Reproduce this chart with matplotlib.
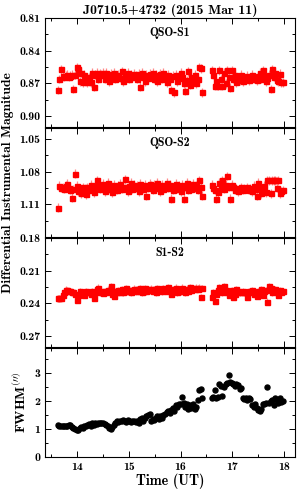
import matplotlib
matplotlib.use("Agg")
import matplotlib.pyplot as plt
from matplotlib.ticker import MultipleLocator, FormatStrFormatter

plt.rcParams['font.family'] = ['cmb10', 'DejaVu Serif']
plt.rcParams['mathtext.fontset'] = 'cm'
plt.rcParams['axes.unicode_minus'] = False

# observation times (UT hours)
time_ut = [13.63, 13.66, 13.69, 13.72, 13.75, 13.78, 13.81, 13.84, 13.87, 13.90,
           13.93, 13.96, 13.99, 14.02, 14.05, 14.08, 14.11, 14.14, 14.17, 14.20,
           14.23, 14.26, 14.29, 14.32, 14.35, 14.38, 14.41, 14.44, 14.47, 14.50,
           14.53, 14.56, 14.59, 14.62, 14.65, 14.68, 14.71, 14.74, 14.77, 14.80,
           14.83, 14.86, 14.89, 14.92, 14.95, 14.98, 15.01, 15.04, 15.07, 15.10,
           15.13, 15.16, 15.19, 15.22, 15.25, 15.28, 15.31, 15.34, 15.37, 15.40,
           15.43, 15.46, 15.49, 15.52, 15.55, 15.58, 15.61, 15.64, 15.67, 15.70,
           15.73, 15.76, 15.79, 15.82, 15.85, 15.88, 15.91, 15.94, 15.97, 16.00,
           16.03, 16.06, 16.09, 16.12, 16.15, 16.18, 16.21, 16.24, 16.27, 16.30,
           16.33, 16.36, 16.39, 16.42,
           16.60, 16.63, 16.66, 16.69, 16.72, 16.75, 16.78, 16.81, 16.84, 16.87,
           16.90, 16.93, 16.96, 16.99, 17.02, 17.05, 17.08, 17.11, 17.14, 17.17,
           17.20, 17.23, 17.26, 17.29, 17.32, 17.35, 17.38, 17.41, 17.44, 17.47,
           17.50, 17.53, 17.56, 17.59, 17.62, 17.65, 17.68, 17.71, 17.74, 17.77,
           17.80, 17.83, 17.86, 17.89, 17.92, 17.95, 17.98]

qso_s1 = [0.876, 0.866, 0.857, 0.863, 0.864, 0.863, 0.862, 0.864, 0.863, 0.862,
          0.875, 0.862, 0.855, 0.857, 0.868, 0.860, 0.869, 0.862, 0.866, 0.869,
          0.864, 0.869, 0.860, 0.873, 0.862, 0.860, 0.866, 0.861, 0.862, 0.860,
          0.866, 0.860, 0.863, 0.868, 0.861, 0.864, 0.860, 0.866, 0.863, 0.862,
          0.865, 0.859, 0.868, 0.861, 0.863, 0.860, 0.866, 0.862, 0.864, 0.861,
          0.863, 0.866, 0.861, 0.873, 0.860, 0.864, 0.868, 0.862, 0.865, 0.861,
          0.864, 0.860, 0.866, 0.862, 0.868, 0.863, 0.861, 0.866, 0.860, 0.864,
          0.869, 0.862, 0.866, 0.876, 0.863, 0.878, 0.862, 0.868, 0.865, 0.860,
          0.864, 0.870, 0.877, 0.867, 0.859, 0.871, 0.864, 0.868, 0.862, 0.870,
          0.866, 0.855, 0.856, 0.878,
          0.858, 0.862, 0.872, 0.868, 0.872, 0.858, 0.866, 0.872, 0.860, 0.870,
          0.858, 0.864, 0.874, 0.858, 0.866, 0.862, 0.869, 0.864, 0.867, 0.862,
          0.868, 0.864, 0.866, 0.863, 0.867, 0.865, 0.862, 0.866, 0.864, 0.867,
          0.863, 0.860, 0.866, 0.858, 0.863, 0.868, 0.865, 0.862, 0.875, 0.857,
          0.864, 0.860, 0.867, 0.868, 0.861, 0.869, 0.869]

qso_s2 = [1.113, 1.093, 1.095, 1.094, 1.096, 1.093, 1.091, 1.095, 1.097, 1.104,
          1.096, 1.082, 1.093, 1.098, 1.095, 1.100, 1.094, 1.096, 1.101, 1.094,
          1.097, 1.092, 1.095, 1.099, 1.093, 1.088, 1.092, 1.096, 1.094, 1.091,
          1.098, 1.094, 1.090, 1.096, 1.093, 1.099, 1.092, 1.095, 1.097, 1.093,
          1.091, 1.096, 1.094, 1.087, 1.095, 1.098, 1.093, 1.090, 1.096, 1.092,
          1.095, 1.093, 1.098, 1.091, 1.094, 1.096, 1.092, 1.102, 1.095, 1.091,
          1.093, 1.097, 1.092, 1.095, 1.090, 1.094, 1.098, 1.092, 1.096, 1.093,
          1.090, 1.095, 1.092, 1.105, 1.097, 1.094, 1.091, 1.096, 1.093, 1.098,
          1.092, 1.105, 1.094, 1.090, 1.097, 1.093, 1.096, 1.091, 1.095, 1.093,
          1.097, 1.088, 1.094, 1.102,
          1.092, 1.095, 1.097, 1.105, 1.099, 1.090, 1.093, 1.088, 1.096, 1.092,
          1.084, 1.094, 1.105, 1.092, 1.094, 1.097, 1.095, 1.098, 1.096, 1.094,
          1.097, 1.095, 1.096, 1.094, 1.097, 1.095, 1.098, 1.093, 1.096, 1.102,
          1.090, 1.094, 1.100, 1.096, 1.093, 1.099, 1.088, 1.088, 1.100, 1.088,
          1.088, 1.088, 1.095, 1.088, 1.100, 1.098, 1.097]

s1_s2 = [0.2355, 0.2355, 0.2350, 0.2320, 0.2300, 0.2275, 0.2280, 0.2285, 0.2290, 0.2295,
         0.2300, 0.2310, 0.2370, 0.2320, 0.2290, 0.2310, 0.2300, 0.2325, 0.2290, 0.2300,
         0.2295, 0.2310, 0.2285, 0.2350, 0.2300, 0.2270, 0.2255, 0.2300, 0.2290, 0.2305,
         0.2285, 0.2300, 0.2275, 0.2290, 0.2240, 0.2310, 0.2330, 0.2285, 0.2300, 0.2280,
         0.2295, 0.2270, 0.2300, 0.2285, 0.2260, 0.2290, 0.2275, 0.2300, 0.2280, 0.2265,
         0.2290, 0.2270, 0.2285, 0.2260, 0.2300, 0.2275, 0.2260, 0.2290, 0.2270, 0.2280,
         0.2265, 0.2285, 0.2270, 0.2300, 0.2260, 0.2280, 0.2270, 0.2290, 0.2260, 0.2275,
         0.2285, 0.2250, 0.2280, 0.2310, 0.2270, 0.2290, 0.2255, 0.2300, 0.2275, 0.2290,
         0.2255, 0.2280, 0.2300, 0.2265, 0.2285, 0.2250, 0.2280, 0.2260, 0.2270, 0.2255,
         0.2265, 0.2255, 0.2340, 0.2260,
         0.2340, 0.2300, 0.2380, 0.2310, 0.2280, 0.2250, 0.2265, 0.2300, 0.2240, 0.2280,
         0.2300, 0.2320, 0.2290, 0.2280, 0.2340, 0.2310, 0.2270, 0.2290, 0.2300, 0.2295,
         0.2285, 0.2300, 0.2295, 0.2340, 0.2290, 0.2300, 0.2280, 0.2310, 0.2300, 0.2330,
         0.2290, 0.2300, 0.2270, 0.2320, 0.2290, 0.2280, 0.2385, 0.2240, 0.2260, 0.2300,
         0.2285, 0.2270, 0.2300, 0.2320, 0.2280, 0.2295, 0.2290]

fwhm = [1.15, 1.12, 1.10, 1.11, 1.10, 1.12, 1.11, 1.13, 1.15, 1.08,
        1.05, 1.00, 0.95, 0.98, 1.03, 1.08, 1.05, 1.12, 1.10, 1.15,
        1.18, 1.12, 1.22, 1.15, 1.20, 1.18, 1.22, 1.20, 1.21, 1.20,
        1.19, 1.15, 1.12, 1.05, 1.02, 1.08, 1.15, 1.22, 1.28, 1.25,
        1.30, 1.28, 1.32, 1.30, 1.27, 1.32, 1.30, 1.25, 1.30, 1.28,
        1.25, 1.30, 1.22, 1.35, 1.40, 1.30, 1.38, 1.45, 1.50, 1.55,
        1.30, 1.35, 1.32, 1.40, 1.48, 1.35, 1.45, 1.38, 1.50, 1.55,
        1.60, 1.65, 1.58, 1.70, 1.75, 1.65, 1.85, 1.80, 1.90, 1.88,
        2.15, 1.95, 1.80, 1.90, 1.72, 1.85, 1.75, 1.90, 1.72, 1.80,
        2.05, 2.40, 2.42, 2.10,
        2.10, 2.15, 2.40, 2.12, 2.15, 2.62, 2.55, 2.18, 2.50, 2.60,
        2.65, 2.92, 2.70, 2.65, 2.60, 2.55, 2.62, 2.58, 2.45, 2.48,
        2.10, 2.08, 2.12, 2.05, 2.10, 2.08, 1.85, 1.80, 1.90, 1.75,
        1.70, 1.65, 1.72, 1.90, 1.88, 1.92, 2.50, 1.95, 2.00, 2.05,
        1.85, 2.10, 2.05, 1.95, 2.12, 1.98, 2.00]

# typical photometric errors
err_s1 = 0.004
err_s2 = 0.004
err_s12 = 0.003

panels = [
    (qso_s1, err_s1, 'QSO-S1', (0.91, 0.81), [0.81, 0.84, 0.87, 0.90]),
    (qso_s2, err_s2, 'QSO-S2', (1.14, 1.04), [1.05, 1.08, 1.11]),
    (s1_s2, err_s12, 'S1-S2', (0.28, 0.18), [0.18, 0.21, 0.24, 0.27]),
]

fig = plt.figure(figsize=(3.0, 4.91), dpi=100)
left, width = 0.15, 0.833
bottoms = [0.7413, 0.5173, 0.2933, 0.0692]
height = 0.222

axes = []
for i, b in enumerate(bottoms):
    ax = fig.add_axes([left, b, width, height])
    axes.append(ax)
    ax.set_xlim(13.38, 18.21)
    ax.xaxis.set_major_locator(MultipleLocator(1))
    ax.xaxis.set_minor_locator(MultipleLocator(0.5))
    ax.tick_params(which='both', direction='in', top=True, right=True,
                   labelsize=8.5, width=0.7)
    ax.tick_params(which='major', length=4)
    ax.tick_params(which='minor', length=2.2)
    for sp in ax.spines.values():
        sp.set_linewidth(0.8)
    if i < 3:
        ax.tick_params(labelbottom=False)

for ax, (vals, err, name, lims, ticks) in zip(axes[:3], panels):
    ax.errorbar(time_ut, vals, yerr=err, fmt='s', color='red', ms=3.6,
                mec='red', ecolor='#ff8a8a', elinewidth=0.9, capsize=0)
    ax.set_ylim(*lims)
    ax.set_yticks(ticks)
    ax.yaxis.set_minor_locator(MultipleLocator(0.015))
    ax.yaxis.set_major_formatter(FormatStrFormatter('%.2f'))
    ax.text(0.5, 0.86, name, transform=ax.transAxes, ha='center', va='center',
            fontsize=8.6)

ax4 = axes[3]
ax4.plot(time_ut, fwhm, 'o', color='black', ms=3.6)
ax4.set_ylim(0, 3.9)
ax4.set_yticks([0, 1, 2, 3])
ax4.yaxis.set_minor_locator(MultipleLocator(0.5))
ax4.set_xlabel('Time (UT)', fontsize=10.2, labelpad=1)
ax4.set_ylabel(r"FWHM$^{(\prime\prime)}$", fontsize=10, labelpad=4)

axes[0].set_title('J0710.5+4732 (2015 Mar 11)', fontsize=9.9, pad=3)
fig.text(0.027, 0.629, 'Differential Instrumental Magnitude', rotation=90,
         ha='center', va='center', fontsize=9.8)

fig.savefig('out.png', dpi=100)
